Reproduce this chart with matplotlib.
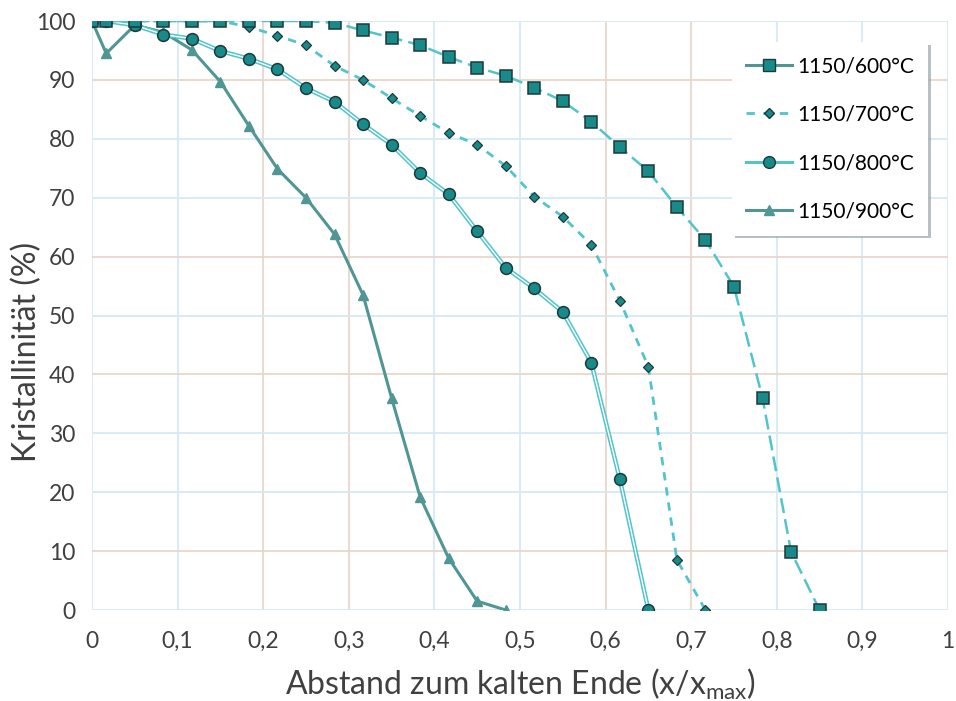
import matplotlib
matplotlib.use("Agg")
import matplotlib.pyplot as plt
from matplotlib.lines import Line2D

plt.rcParams["font.family"] = ["Lato", "DejaVu Sans"]
plt.rcParams["mathtext.fontset"] = "custom"
plt.rcParams["mathtext.rm"] = "Lato"
plt.rcParams["mathtext.it"] = "Lato:italic"

# Position along the sample (x/xmax)
x_600 = [0, 1/60, 3/60, 5/60, 7/60, 9/60, 11/60, 13/60, 15/60, 17/60, 19/60, 21/60,
         23/60, 25/60, 27/60, 29/60, 31/60, 33/60, 35/60, 37/60, 39/60, 41/60,
         43/60, 45/60, 47/60, 49/60, 51/60]
y_600 = [100, 100, 100, 100, 100, 100, 100, 100, 100, 99.7, 98.4, 97.2,
         95.9, 93.9, 92.1, 90.7, 88.7, 86.4, 82.9, 78.6, 74.5, 68.4,
         62.8, 54.9, 36.0, 9.9, 0]

x_700 = [0, 1/60, 3/60, 5/60, 7/60, 9/60, 11/60, 13/60, 15/60, 17/60, 19/60, 21/60,
         23/60, 25/60, 27/60, 29/60, 31/60, 33/60, 35/60, 37/60, 39/60, 41/60, 43/60]
y_700 = [100, 100, 100, 100, 100, 100, 99.0, 97.5, 95.9, 92.4, 90.0, 86.9,
         83.9, 81.0, 79.0, 75.4, 70.2, 66.8, 62.0, 52.5, 41.3, 8.5, 0]

x_800 = [0, 1/60, 3/60, 5/60, 7/60, 9/60, 11/60, 13/60, 15/60, 17/60, 19/60, 21/60,
         23/60, 25/60, 27/60, 29/60, 31/60, 33/60, 35/60, 37/60, 39/60]
y_800 = [100, 100, 99.3, 97.7, 97.0, 94.9, 93.6, 91.8, 88.6, 86.3, 82.5, 79.0,
         74.2, 70.6, 64.3, 58.1, 54.6, 50.6, 42.0, 22.2, 0]

x_900 = [0, 1/60, 3/60, 5/60, 7/60, 9/60, 11/60, 13/60, 15/60, 17/60, 19/60, 21/60,
         23/60, 25/60, 27/60, 29/60]
y_900 = [100, 94.5, 99.3, 98.1, 95.1, 89.7, 82.2, 74.9, 70.0, 63.8, 53.5, 36.0,
         19.2, 8.8, 1.5, 0]

labels = ["1150/600°C", "1150/700°C", "1150/800°C", "1150/900°C"]
x_ticks = [0, 0.1, 0.2, 0.3, 0.4, 0.5, 0.6, 0.7, 0.8, 0.9, 1.0]
x_tick_labels = ["0", "0,1", "0,2", "0,3", "0,4", "0,5", "0,6", "0,7", "0,8", "0,9", "1"]
y_ticks = [0, 10, 20, 30, 40, 50, 60, 70, 80, 90, 100]

FILL = "#178a89"
EDGE = "#1d3a3a"
CYAN = "#52c4cc"
TEAL = "#4f9694"
BLUE_GRID = "#d5eaf6"
BROWN_GRID = "#ead5cc"
TEXT = "#404040"

fig = plt.figure(figsize=(9.56, 7.01), dpi=100)
ax = fig.add_axes([0.0962, 0.1298, 0.8954, 0.8402])
ax.set_xlim(0, 1)
ax.set_ylim(0, 100)

# grid lines, tinted alternately
brown_x = {0.2, 0.3, 0.6, 0.7}
brown_y = {10, 40, 60, 90}
for xv in x_ticks:
    ax.axvline(xv, color=BROWN_GRID if xv in brown_x else BLUE_GRID, lw=1.3, zorder=0)
for yv in y_ticks:
    ax.axhline(yv, color=BROWN_GRID if yv in brown_y else BLUE_GRID, lw=1.3, zorder=0)
for s in ax.spines.values():
    s.set_visible(False)

# 1150/900
ax.plot(x_900, y_900, color=TEAL, lw=2.2, marker="^", ms=6.5, mfc=TEAL, mec=TEAL,
        zorder=3)
# 1150/800: double line
ax.plot(x_800, y_800, color=CYAN, lw=3.2, zorder=3)
ax.plot(x_800, y_800, color="white", lw=1.0, zorder=3)
ax.plot(x_800, y_800, ls="none", marker="o", ms=8.5, mfc=FILL, mec=EDGE, mew=1.1,
        zorder=4)
# 1150/700
ax.plot(x_700, y_700, color=CYAN, lw=2.0, ls=(0, (3, 2.5)), marker="D", ms=5.5,
        mfc=FILL, mec=EDGE, mew=0.9, zorder=5)
# 1150/600
ax.plot(x_600, y_600, color=CYAN, lw=1.8, ls=(0, (6, 2.5)), marker="s", ms=8.5,
        mfc=FILL, mec=EDGE, mew=1.1, zorder=6)

ax.set_xticks(x_ticks)
ax.set_xticklabels(x_tick_labels)
ax.set_yticks(y_ticks)
ax.tick_params(length=0, labelsize=16.5, labelcolor=TEXT)
ax.tick_params(axis="x", pad=15)
ax.tick_params(axis="y", pad=12)

ax.set_xlabel(r"Abstand zum kalten Ende (x/x$_{\mathrm{max}}$)", fontsize=23,
              color=TEXT)
ax.set_ylabel("Kristallinität (%)", fontsize=23, color=TEXT)
ax.xaxis.set_label_coords(0.5, -0.097)
ax.yaxis.set_label_coords(-0.058, 0.438)

handles = [
    Line2D([], [], color=TEAL, lw=2.2, marker="s", ms=8.5, mfc=FILL, mec=EDGE),
    Line2D([], [], color=CYAN, lw=2.0, ls=(0, (3, 3)), marker="D", ms=5.5, mfc=FILL,
           mec=EDGE),
    Line2D([], [], color=CYAN, lw=2.2, marker="o", ms=8.5, mfc=FILL, mec=EDGE),
    Line2D([], [], color=TEAL, lw=2.2, marker="^", ms=6.5, mfc=TEAL, mec=TEAL),
]
leg = ax.legend(handles, labels, loc="upper right", bbox_to_anchor=(0.977, 0.964),
                fontsize=15, frameon=True, fancybox=False,
                shadow={"color": "#9aa6ab", "alpha": 0.7},
                labelspacing=1.36, handlelength=2.2, handletextpad=0.25,
                borderpad=0.68, borderaxespad=0)
leg.get_frame().set_edgecolor("white")
leg.get_frame().set_linewidth(0)
for t in leg.get_texts():
    t.set_color("black")

fig.savefig("out.png", dpi=100)
